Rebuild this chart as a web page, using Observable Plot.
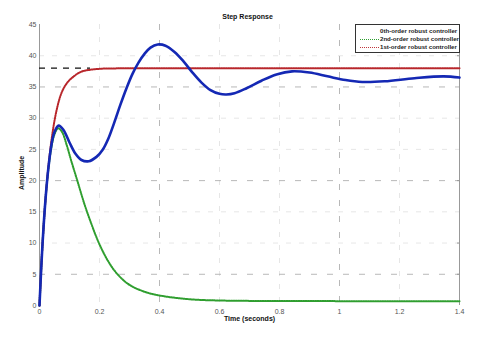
<!DOCTYPE html>
<html>
<head>
<meta charset="utf-8">
<script src="https://cdn.jsdelivr.net/npm/d3@7"></script>
<script src="https://cdn.jsdelivr.net/npm/@observablehq/plot@0.6"></script>
<style>
  html, body { margin: 0; padding: 0; background: #fff; }
  #wrap { position: relative; width: 480px; height: 337px; font-family: Arial, "Liberation Sans", sans-serif; }
  #legend { position: absolute; left: 355px; top: 24px; width: 103px; height: 27px; background: #fff; border: 1px solid #333; font-size: 6.1px; font-weight: bold; color: #222; }
  .row { position: absolute; left: 0; height: 8px; width: 103px; }
  .sw { position: absolute; left: 4px; top: 4px; width: 19px; height: 0; }
  .lb { position: absolute; left: 24px; top: 0; line-height: 8px; white-space: nowrap; }
</style>
</head>
<body>
<div id="wrap"></div>
<script>
// 0th-order robust controller (blue, solid)
const tBlue = [0, 0.005, 0.01, 0.02, 0.03, 0.04, 0.05, 0.064, 0.08, 0.1, 0.12, 0.14, 0.164, 0.19, 0.21, 0.23, 0.25, 0.27, 0.29, 0.31, 0.33, 0.35, 0.37, 0.394, 0.42, 0.45, 0.48, 0.51, 0.54, 0.57, 0.6, 0.623, 0.65, 0.69, 0.74, 0.79, 0.842, 0.9, 0.96, 1.02, 1.076, 1.15, 1.25, 1.347, 1.4];
const vBlue = [0, 5.2, 9.8, 17, 22.2, 25.8, 27.8, 28.8, 28.1, 26.1, 24.3, 23.3, 23.1, 23.8, 24.9, 26.8, 29.4, 32.2, 34.8, 37.1, 38.9, 40.3, 41.3, 41.8, 41.6, 40.6, 39.1, 37.3, 35.7, 34.5, 33.9, 33.8, 34.0, 34.8, 36.0, 37.0, 37.5, 37.3, 36.7, 36.1, 35.8, 35.9, 36.4, 36.7, 36.5];

// 2nd-order robust controller (green, dotted)
const tGreen = [0, 0.005, 0.01, 0.02, 0.03, 0.04, 0.05, 0.062, 0.075, 0.09, 0.105, 0.126, 0.15, 0.175, 0.198, 0.23, 0.26, 0.3, 0.35, 0.4, 0.5, 0.6, 0.8, 1.0, 1.2, 1.4];
const vGreen = [0, 5.2, 9.8, 17, 22, 25.4, 27.4, 28.4, 27.8, 25.8, 23.3, 20, 16.2, 12.8, 10, 7, 5, 3.3, 2.2, 1.6, 1.0, 0.8, 0.72, 0.7, 0.7, 0.7];

// 1st-order robust controller (red, dotted)
const tRed = [0, 0.005, 0.01, 0.02, 0.03, 0.04, 0.05, 0.06, 0.07, 0.083, 0.1, 0.12, 0.133, 0.15, 0.2, 0.25, 0.3, 0.6, 1.0, 1.4];
const vRed = [0, 5.3, 9.8, 17.0, 22.4, 26.5, 29.6, 31.9, 33.6, 35.0, 36.1, 36.9, 37.3, 37.6, 37.9, 37.97, 38, 38, 38, 38];

const steadyValue = 38;
const steadyEnd = 0.17;

const xTicks = [0, 0.2, 0.4, 0.6, 0.8, 1, 1.2, 1.4];
const yTicks = [0, 5, 10, 15, 20, 25, 30, 35, 40, 45];
const darkGridY = [5, 20, 35];
const darkGridX = [0.4, 1];

const seriesNames = ["0th-order robust controller", "2nd-order robust controller", "1st-order robust controller"];

const toRows = (ts, vs) => ts.map((t, i) => ({t, v: vs[i]}));
const blue = toRows(tBlue, vBlue);
const green = toRows(tGreen, vGreen);
const red = toRows(tRed, vRed);

const lightGridY = yTicks.filter(d => !darkGridY.includes(d) && d !== 0 && d !== 45);
const lightGridX = xTicks.filter(d => !darkGridX.includes(d) && d !== 0 && d !== 1.4);

const chart = Plot.plot({
  width: 480,
  height: 337,
  marginLeft: 39,
  marginRight: 21,
  marginTop: 24,
  marginBottom: 32,
  style: {fontFamily: "Arial, 'Liberation Sans', sans-serif", fontSize: "7px", color: "#555", background: "#fff"},
  x: {domain: [0, 1.4]},
  y: {domain: [0, 45]},
  marks: [
    Plot.ruleY(lightGridY, {stroke: "#e0e0e0", strokeWidth: 0.8, strokeDasharray: "5,8"}),
    Plot.ruleX(lightGridX, {stroke: "#e0e0e0", strokeWidth: 0.8, strokeDasharray: "5,8"}),
    Plot.ruleY(darkGridY, {stroke: "#b0b0b0", strokeWidth: 0.9, strokeDasharray: "6,10"}),
    Plot.ruleX(darkGridX, {stroke: "#b0b0b0", strokeWidth: 0.9, strokeDasharray: "6,10"}),
    Plot.ruleX([0, 1.4], {stroke: "#999", strokeWidth: 1}),
    Plot.axisX(xTicks, {tickSize: 0, tickPadding: 4, fill: "#555", fontSize: 7, tickFormat: d => String(d), label: null}),
    Plot.axisY(yTicks, {tickSize: 0, tickPadding: 3, fill: "#555", fontSize: 7, tickFormat: d => String(d), label: null}),
    Plot.axisY([5, 10, 20, 40], {anchor: "right", tickSize: -3, stroke: "#999", tickFormat: () => "", label: null}),
    Plot.text(["Time (seconds)"], {frameAnchor: "bottom", dy: 15, fontWeight: "bold", fontSize: 7, fill: "#111"}),
    Plot.text(["Amplitude"], {frameAnchor: "left", dx: -18, dy: 25, rotate: -90, fontWeight: "bold", fontSize: 7, fill: "#111"}),
    Plot.text(["Step Response"], {frameAnchor: "top", dy: -10, dx: -2, fontWeight: "bold", fontSize: 7, fill: "#111"}),
    Plot.ruleY([steadyValue], {x1: 0, x2: steadyEnd, stroke: "#111", strokeWidth: 1.2, strokeDasharray: "6,6"}),
    Plot.line(green, {x: "t", y: "v", stroke: "#2f9e2f", strokeWidth: 2, strokeDasharray: "1.3,1.1", curve: "catmull-rom"}),
    Plot.line(red, {x: "t", y: "v", stroke: "#b8262b", strokeWidth: 2, strokeDasharray: "1.3,1.1", curve: "catmull-rom"}),
    Plot.line(blue, {x: "t", y: "v", stroke: "#1428b4", strokeWidth: 2.6, curve: "catmull-rom"})
  ]
});

const wrap = document.getElementById("wrap");
wrap.appendChild(chart);

const legend = document.createElement("div");
legend.id = "legend";
const swatches = [
  {style: "none"},
  {style: "1px dotted #2f9e2f"},
  {style: "1px dotted #c0363b"}
];
seriesNames.forEach((name, i) => {
  const row = document.createElement("div");
  row.className = "row";
  row.style.top = (i * 8 + 1.5) + "px";
  const sw = document.createElement("div");
  sw.className = "sw";
  sw.style.borderTop = swatches[i].style;
  const lb = document.createElement("div");
  lb.className = "lb";
  lb.textContent = name;
  row.appendChild(sw);
  row.appendChild(lb);
  legend.appendChild(row);
});
wrap.appendChild(legend);
</script>
</body>
</html>
